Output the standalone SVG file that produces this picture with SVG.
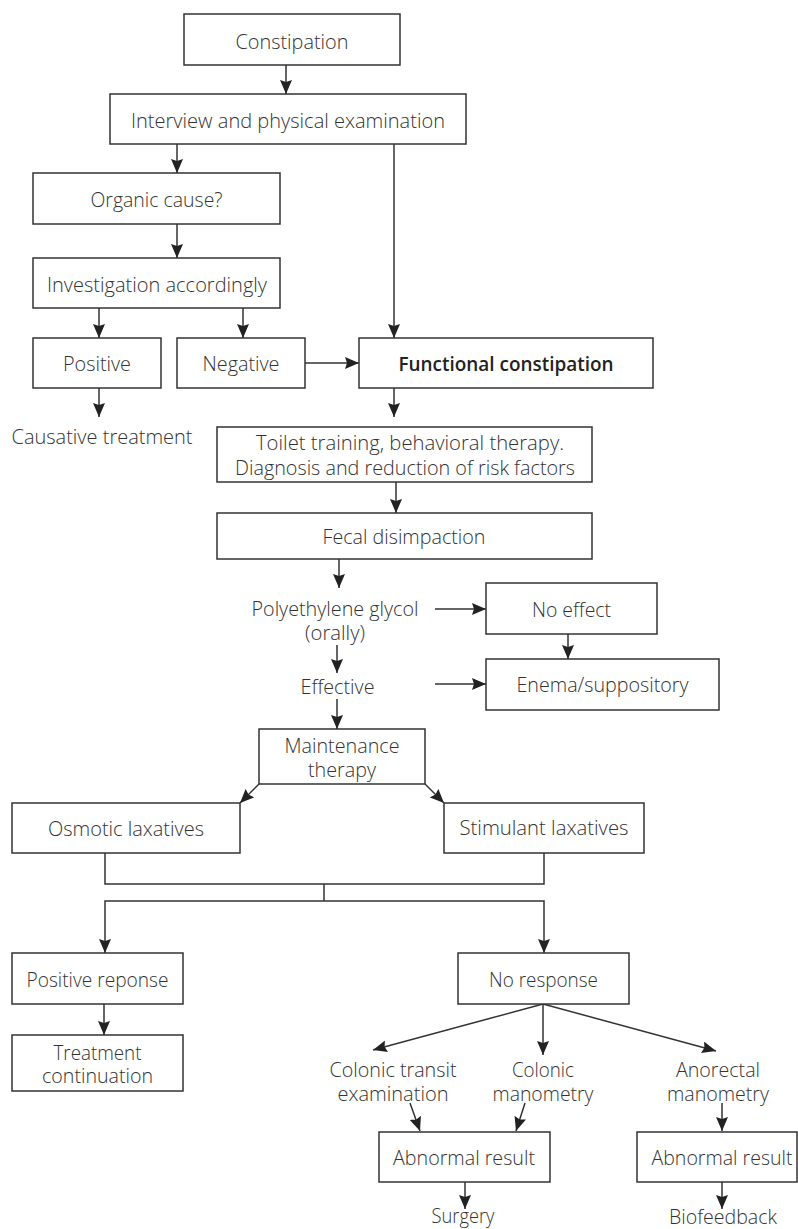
<svg xmlns="http://www.w3.org/2000/svg" width="798" height="1229" viewBox="0 0 798 1229">
<style>
.box{fill:#fff;stroke:#333;stroke-width:1.5}
.t{font-family:"Open Sans","Noto Sans","Liberation Sans",sans-serif;font-size:20px;font-weight:300;fill:#333;text-anchor:middle}
.b{font-weight:600;fill:#222}
.c{fill:none;stroke:#333;stroke-width:1.5}
</style>
<defs>
<marker id="ah" viewBox="0 0 14 12" refX="14" refY="6" markerWidth="14" markerHeight="12" markerUnits="userSpaceOnUse" orient="auto">
<path d="M0,0 L14,6 L0,12 L2,6 z" fill="#222"/>
</marker>
</defs>
<rect width="798" height="1229" fill="#fff"/>
<g id="connectors">
<path class="c" d="M286,65 V94" marker-end="url(#ah)"/>
<path class="c" d="M177,144 V173" marker-end="url(#ah)"/>
<path class="c" d="M177,224 V258" marker-end="url(#ah)"/>
<path class="c" d="M99,308 V338" marker-end="url(#ah)"/>
<path class="c" d="M243,308 V338" marker-end="url(#ah)"/>
<path class="c" d="M394,144 V338" marker-end="url(#ah)"/>
<path class="c" d="M305,363 H359" marker-end="url(#ah)"/>
<path class="c" d="M99,388 V417" marker-end="url(#ah)"/>
<path class="c" d="M394,388 V417" marker-end="url(#ah)"/>
<path class="c" d="M396,482 V513" marker-end="url(#ah)"/>
<path class="c" d="M339,559 V588" marker-end="url(#ah)"/>
<path class="c" d="M435,609 H486" marker-end="url(#ah)"/>
<path class="c" d="M568,634 V659" marker-end="url(#ah)"/>
<path class="c" d="M337,645 V673" marker-end="url(#ah)"/>
<path class="c" d="M435,684 H486" marker-end="url(#ah)"/>
<path class="c" d="M337,699 V729" marker-end="url(#ah)"/>
<path class="c" d="M259,784 L240,803" marker-end="url(#ah)"/>
<path class="c" d="M425,784 L444,803" marker-end="url(#ah)"/>
<path class="c" d="M105,853 V884 H544 V853"/>
<path class="c" d="M324,884 V901"/>
<path class="c" d="M324,901 H105 V953" marker-end="url(#ah)"/>
<path class="c" d="M324,901 H544 V953" marker-end="url(#ah)"/>
<path class="c" d="M104,1004 V1035" marker-end="url(#ah)"/>
<path class="c" d="M543,1004 L373,1050" marker-end="url(#ah)"/>
<path class="c" d="M543,1004 V1055" marker-end="url(#ah)"/>
<path class="c" d="M543,1004 L716,1051" marker-end="url(#ah)"/>
<path class="c" d="M410,1103 L420,1131" marker-end="url(#ah)"/>
<path class="c" d="M525,1103 L516,1131" marker-end="url(#ah)"/>
<path class="c" d="M722,1103 V1131" marker-end="url(#ah)"/>
<path class="c" d="M465,1182 V1209" marker-end="url(#ah)"/>
<path class="c" d="M722,1182 V1209" marker-end="url(#ah)"/>
</g>
<g id="n-constipation"><rect class="box" x="184" y="14" width="216" height="51"/><text class="t" x="292" y="49" textLength="113" lengthAdjust="spacingAndGlyphs">Constipation</text></g>
<g id="n-interview"><rect class="box" x="110" y="94" width="356" height="50"/><text class="t" x="288" y="128" textLength="314" lengthAdjust="spacingAndGlyphs">Interview and physical examination</text></g>
<g id="n-organic"><rect class="box" x="33" y="173" width="247" height="51"/><text class="t" x="156.5" y="207" textLength="132" lengthAdjust="spacingAndGlyphs">Organic cause?</text></g>
<g id="n-investigation"><rect class="box" x="33" y="258" width="247" height="50"/><text class="t" x="157" y="292" textLength="220" lengthAdjust="spacingAndGlyphs">Investigation accordingly</text></g>
<g id="n-positive"><rect class="box" x="33" y="338" width="128" height="50"/><text class="t" x="97" y="371" textLength="68" lengthAdjust="spacingAndGlyphs">Positive</text></g>
<g id="n-negative"><rect class="box" x="177" y="338" width="128" height="50"/><text class="t" x="241" y="371" textLength="77" lengthAdjust="spacingAndGlyphs">Negative</text></g>
<g id="n-functional"><rect class="box" x="359" y="338" width="294" height="50"/><text class="t b" x="506" y="371" textLength="215" lengthAdjust="spacingAndGlyphs">Functional constipation</text></g>
<g id="n-causative"><text class="t" x="102" y="444" textLength="181" lengthAdjust="spacingAndGlyphs">Causative treatment</text></g>
<g id="n-toilet"><rect class="box" x="217" y="427" width="375" height="55"/><text class="t" x="410" y="450" textLength="308" lengthAdjust="spacingAndGlyphs">Toilet training, behavioral therapy.</text><text class="t" x="405" y="475" textLength="340" lengthAdjust="spacingAndGlyphs">Diagnosis and reduction of risk factors</text></g>
<g id="n-fecal"><rect class="box" x="217" y="513" width="375" height="46"/><text class="t" x="404" y="544" textLength="163" lengthAdjust="spacingAndGlyphs">Fecal disimpaction</text></g>
<g id="n-peg"><text class="t" x="335" y="616" textLength="167" lengthAdjust="spacingAndGlyphs">Polyethylene glycol</text><text class="t" x="335" y="640" textLength="60" lengthAdjust="spacingAndGlyphs">(orally)</text></g>
<g id="n-noeffect"><rect class="box" x="486" y="583" width="171" height="51"/><text class="t" x="571.5" y="617" textLength="79" lengthAdjust="spacingAndGlyphs">No effect</text></g>
<g id="n-effective"><text class="t" x="337.5" y="694" textLength="74" lengthAdjust="spacingAndGlyphs">Effective</text></g>
<g id="n-enema"><rect class="box" x="486" y="659" width="233" height="51"/><text class="t" x="602.5" y="692" textLength="172" lengthAdjust="spacingAndGlyphs">Enema/suppository</text></g>
<g id="n-maintenance"><rect class="box" x="259" y="729" width="166" height="55"/><text class="t" x="342" y="753" textLength="115" lengthAdjust="spacingAndGlyphs">Maintenance</text><text class="t" x="342" y="777" textLength="68" lengthAdjust="spacingAndGlyphs">therapy</text></g>
<g id="n-osmotic"><rect class="box" x="12" y="803" width="228" height="50"/><text class="t" x="126" y="836" textLength="156" lengthAdjust="spacingAndGlyphs">Osmotic laxatives</text></g>
<g id="n-stimulant"><rect class="box" x="444" y="803" width="200" height="50"/><text class="t" x="544" y="835" textLength="169" lengthAdjust="spacingAndGlyphs">Stimulant laxatives</text></g>
<g id="n-posresp"><rect class="box" x="12" y="953" width="171" height="51"/><text class="t" x="97.5" y="987" textLength="142" lengthAdjust="spacingAndGlyphs">Positive reponse</text></g>
<g id="n-treatment"><rect class="box" x="12" y="1035" width="171" height="56"/><text class="t" x="97.5" y="1060" textLength="88" lengthAdjust="spacingAndGlyphs">Treatment</text><text class="t" x="97.5" y="1083" textLength="111" lengthAdjust="spacingAndGlyphs">continuation</text></g>
<g id="n-noresp"><rect class="box" x="458" y="953" width="171" height="51"/><text class="t" x="543.5" y="987" textLength="109" lengthAdjust="spacingAndGlyphs">No response</text></g>
<g id="n-transit"><text class="t" x="393" y="1077" textLength="127" lengthAdjust="spacingAndGlyphs">Colonic transit</text><text class="t" x="393" y="1101" textLength="111" lengthAdjust="spacingAndGlyphs">examination</text></g>
<g id="n-colonic"><text class="t" x="543" y="1077" textLength="62" lengthAdjust="spacingAndGlyphs">Colonic</text><text class="t" x="543" y="1101" textLength="101" lengthAdjust="spacingAndGlyphs">manometry</text></g>
<g id="n-anorectal"><text class="t" x="718" y="1077" textLength="84" lengthAdjust="spacingAndGlyphs">Anorectal</text><text class="t" x="718" y="1101" textLength="102" lengthAdjust="spacingAndGlyphs">manometry</text></g>
<g id="n-abn1"><rect class="box" x="379" y="1132" width="171" height="50"/><text class="t" x="464" y="1165" textLength="142" lengthAdjust="spacingAndGlyphs">Abnormal result</text></g>
<g id="n-abn2"><rect class="box" x="637" y="1132" width="160" height="50"/><text class="t" x="722" y="1165" textLength="141" lengthAdjust="spacingAndGlyphs">Abnormal result</text></g>
<g id="n-surgery"><text class="t" x="463" y="1223" textLength="63" lengthAdjust="spacingAndGlyphs">Surgery</text></g>
<g id="n-biofeedback"><text class="t" x="723" y="1224" textLength="108" lengthAdjust="spacingAndGlyphs">Biofeedback</text></g>
</svg>
